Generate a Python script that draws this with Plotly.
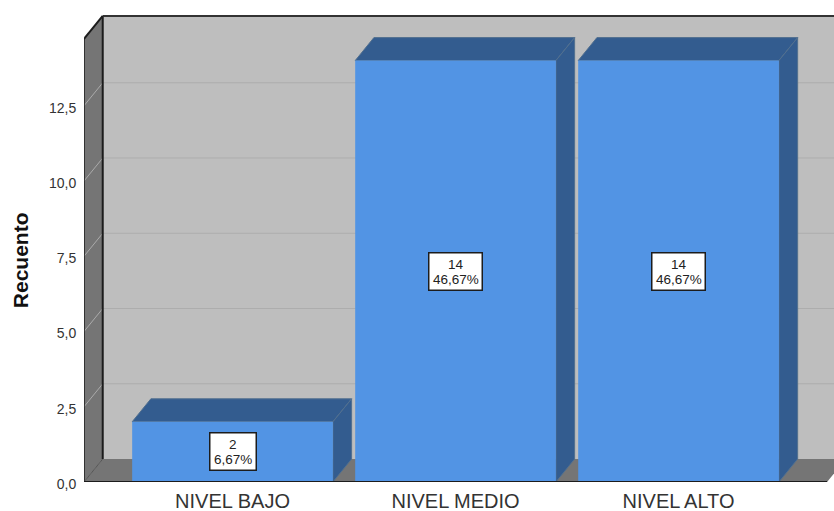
import plotly.graph_objects as go

categories = ["NIVEL BAJO", "NIVEL MEDIO", "NIVEL ALTO"]
counts = [2, 14, 14]
percents = ["6,67%", "46,67%", "46,67%"]
y_ticks = [0, 2.5, 5, 7.5, 10, 12.5]
y_axis_top = 14.72
y_title_center = 7.37

FRONT = "#5294E4"
SHADE = "#335C8F"
WALL = "#BEBEBE"
DARK_WALL = "#757575"
INK = "#1c1c1c"
FONT = "Liberation Sans, Arial, sans-serif"

pos = list(range(len(categories)))
bar_w = 0.9
dx, dy = 0.084, 0.764
x_min, x_max = -0.666, 2.697
x_floor_end = 2.666
y_max = 15.548


def poly(pts, fill, line="rgba(0,0,0,0)", lw=0, layer="below"):
    path = "M " + " L ".join(f"{x},{y}" for x, y in pts) + " Z"
    return dict(type="path", path=path, xref="x", yref="y", fillcolor=fill,
                line=dict(color=line, width=lw), layer=layer)


def seg(x0, y0, x1, y1, color, w, layer="below"):
    return dict(type="line", x0=x0, y0=y0, x1=x1, y1=y1, xref="x", yref="y",
                line=dict(color=color, width=w), layer=layer)


bx, by = x_min + dx, dy
top_back = y_axis_top + dy
shapes = [
    poly([(bx, by), (x_max + 1, by), (x_max + 1, top_back), (bx, top_back)], WALL),
    poly([(x_min, 0), (bx, by), (bx, top_back), (x_min, y_axis_top)], DARK_WALL),
    poly([(x_min, 0), (bx, by), (x_floor_end + dx, by), (x_floor_end, 0)], DARK_WALL),
]
for t in y_ticks[1:]:
    shapes.append(seg(bx, t + dy, x_max, t + dy, "#ADADAD", 1))
    shapes.append(seg(x_min, t, bx, t + dy, "#ABABAB", 1))
shapes += [
    seg(bx, by, bx, top_back, INK, 2),
    seg(bx, top_back, x_max, top_back, "#333333", 2),
    seg(x_min, y_axis_top, bx, top_back, INK, 2),
    seg(x_min, 0, x_min, y_axis_top, INK, 1.5),
    seg(x_min, 0, bx, by, "#555555", 1),
]
for p, v in zip(pos, counts):
    l, r = p - bar_w / 2, p + bar_w / 2
    shapes.append(poly([(l, v), (l + dx, v + dy), (r + dx, v + dy), (r, v)], SHADE, "#52708f", 1))
    shapes.append(poly([(r, 0), (r + dx, dy), (r + dx, v + dy), (r, v)], SHADE, "#52708f", 1))
shapes.append(seg(x_min, 0, x_floor_end, 0, INK, 2, layer="above"))

fig = go.Figure(go.Bar(x=pos, y=counts, width=bar_w, marker=dict(color=FRONT, line=dict(width=0)),
                       hoverinfo="skip"))

annotations = [dict(x=-0.0853, xref="paper", y=y_title_center, yref="y", text="<b>Recuento</b>",
                    textangle=-90, showarrow=False, xanchor="center",
                    font=dict(family=FONT, size=21, color="#111111"))]
for p, v, pct in zip(pos, counts, percents):
    annotations.append(dict(x=p, y=v / 2, xref="x", yref="y", text=" ", showarrow=False,
                            width=7 * len(pct) + 10, height=36, bgcolor="white",
                            bordercolor=INK, borderwidth=1.5, borderpad=0))
    for txt, shift in ((str(v), 7), (pct, -8)):
        annotations.append(dict(x=p, y=v / 2, xref="x", yref="y", text=txt, showarrow=False,
                                yshift=shift, font=dict(family=FONT, size=13.5, color="#222222")))

fig.update_layout(
    width=834, height=511, autosize=False,
    margin=dict(l=84, r=0, t=14, b=29),
    paper_bgcolor="white", plot_bgcolor="white",
    separators=",.",
    showlegend=False,
    shapes=shapes, annotations=annotations,
    xaxis=dict(range=[x_min, x_max], tickmode="array", tickvals=pos, ticktext=categories,
               showgrid=False, zeroline=False, showline=False, ticks="outside", ticklen=1,
               tickcolor="rgba(0,0,0,0)", automargin=False,
               tickfont=dict(family=FONT, size=20, color="#333333")),
    yaxis=dict(range=[0, y_max], tickmode="array", tickvals=y_ticks, tickformat=".1f",
               showgrid=False, zeroline=False, showline=False, ticks="outside", ticklen=4,
               tickcolor="rgba(0,0,0,0)", ticklabelshift=2, automargin=False,
               tickfont=dict(family=FONT, size=14, color="#333333")),
)
fig.write_html("out.html", config={"displayModeBar": False},
               post_script="document.body.style.margin='0';")
